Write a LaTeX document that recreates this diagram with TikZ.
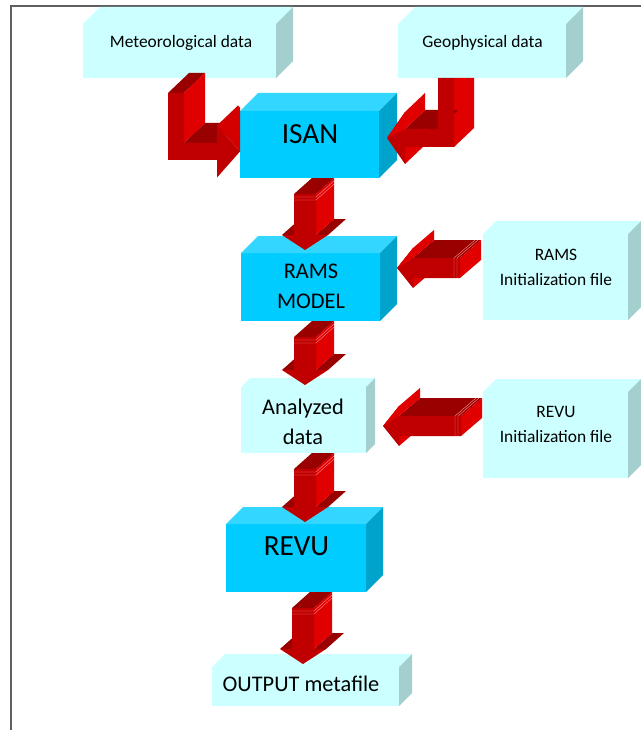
\documentclass[tikz,border=0pt]{standalone}
\usepackage{fontspec}
\setmainfont{Carlito}
\usetikzlibrary{calc}
\definecolor{lightfront}{HTML}{CCFFFF}
\definecolor{lightside}{HTML}{A3CFCF}
\definecolor{bluefront}{HTML}{00CCFF}
\definecolor{bluetop}{HTML}{33D6FF}
\definecolor{blueside}{HTML}{00A3CC}
\definecolor{arrfront}{HTML}{C00000}
\definecolor{arrside}{HTML}{E00000}
\definecolor{arrdark}{HTML}{990000}
\definecolor{arrmid}{HTML}{D40000}
\definecolor{framegray}{HTML}{5F5F5F}
\newcommand{\pxu}{0.25mm}
\tikzset{
  boxface/.style={inner sep=0pt, outer sep=0pt},
  lightface/.style={boxface, fill=lightfront},
  blueface/.style={boxface, fill=bluefront},
  smalltxt/.style={font=\fontsize{12.4}{17.7}\selectfont, align=center, inner sep=0pt},
  midtxt/.style={font=\fontsize{15.9}{21.5}\selectfont, align=center, inner sep=0pt},
  bigtxt/.style={font=\fontsize{20.8}{24}\selectfont, inner sep=0pt},
  seam/.style={draw=red!45!white, line width=0.3pt},
  pics/downblk/.style={code={
    \fill[arrdark] (-23,#1-15) -- (-11,#1-15) -- (7,#1-31) -- (-5,#1-31) -- cycle;
    \fill[arrdark] (11,#1-15) -- (23,#1-15) -- (41,#1-31) -- (29,#1-31) -- cycle;
    \fill[arrside] (11,16) -- (29,0) -- (29,#1-31) -- (11,#1-15) -- cycle;
    \fill[arrdark] (-11,16) -- (11,16) -- (29,0) -- (7,0) -- cycle;
    \fill[arrfront] (-11,16) -- (11,16) -- (11,#1-15) -- (23,#1-15) -- (0,#1) -- (-23,#1-15) -- (-11,#1-15) -- cycle;
    \draw[seam] (-11,19) -- (11,19) -- (29,3);
    \draw[seam] (-11,22) -- (11,22) -- (29,6);
  }},
  pics/leftblk/.style={code={
    \fill[arrside] (16,10) -- (16,20) -- (37,2) -- (37,-8) -- cycle;
    \fill[arrdark] (16,-10) -- (#1,-10) -- (#1+21,-28) -- (37,-28) -- cycle;
    \fill[arrside] (#1,-10) -- (#1+21,-28) -- (#1+21,-8) -- (#1,10) -- cycle;
    \fill[arrfront] (0,0) -- (16,-20) -- (16,-10) -- (#1,-10) -- (#1,10) -- (16,10) -- (16,20) -- cycle;
    \fill[arrside] (0,0) -- (16,-20) -- (37,-38) -- (37,-28) -- (16,-10) -- cycle;
    \draw[seam] (#1-3,10) -- (#1-3,-10) -- (#1+18,-28);
    \draw[seam] (#1-6,10) -- (#1-6,-10) -- (#1+15,-28);
  }}
}
\begin{document}
\begin{tikzpicture}[x=0.25mm, y=-0.25mm]
\useasboundingbox (0,0) rectangle (641,730);
\draw[framegray, line width=1.2pt] (11,730) -- (11,6) -- (641,6);

\node[lightface, minimum width=193*\pxu, minimum height=54*\pxu] (met) at (179.5,51) {};
\node[lightface, minimum width=168*\pxu, minimum height=54*\pxu] (geo) at (482,51) {};
\node[blueface, minimum width=139*\pxu, minimum height=67*\pxu] (isan) at (309.5,144.5) {};
\node[blueface, minimum width=139*\pxu, minimum height=68*\pxu] (rams) at (310.5,287) {};
\node[lightface, minimum width=125*\pxu, minimum height=66*\pxu] (ana) at (303.5,420) {};
\node[blueface, minimum width=140*\pxu, minimum height=68*\pxu] (revu) at (296,558) {};
\node[lightface, minimum width=187*\pxu, minimum height=39*\pxu] (out) at (305.5,686.5) {};
\node[lightface, minimum width=145*\pxu, minimum height=86*\pxu] (ramsini) at (555.5,277) {};
\node[lightface, minimum width=145*\pxu, minimum height=86*\pxu] (revuini) at (555.5,435) {};

\foreach \n/\d/\tp/\sd in {met/17/lightfront/lightside, geo/17/lightfront/lightside,
    isan/18/bluetop/blueside, rams/17/bluetop/blueside, ana/9/lightfront/lightside,
    revu/17/bluetop/blueside, out/13/lightfront/lightside,
    ramsini/13/lightfront/lightside, revuini/13/lightfront/lightside}{
  \fill[\tp] (\n.north west) -- ++(\d,-\d) -- ($(\n.north east)+(\d,-\d)$) -- (\n.north east) -- cycle;
  \fill[\sd] (\n.north east) -- ++(\d,-\d) -- ($(\n.south east)+(\d,-\d)$) -- (\n.south east) -- cycle;
}

\node[smalltxt] (metlbl) at ($(met.center)+(1.5,-8.5)$) {Meteorological data};
\node[smalltxt] (geolbl) at ($(geo.center)+(0.5,-8.5)$) {Geophysical data};
\node[bigtxt] (isanlbl) at ($(isan.center)+(0.5,-10.5)$) {ISAN};
\node[midtxt] (ramslbl) at ($(rams.center)+(0.5,-0.5)$) {RAMS\\MODEL};
\node[midtxt] (analbl) at ($(ana.center)+(-0.5,2)$) {Analyzed\\data};
\node[bigtxt] (revulbl) at ($(revu.center)+(0.5,-11.3)$) {REVU};
\node[midtxt] (outlbl) at ($(out.center)+(-4.5,-2.8)$) {OUTPUT metafile};
\node[smalltxt] (ramsinilbl) at ($(ramsini.center)+(0.5,-9.4)$) {RAMS\\Initialization file};
\node[smalltxt] (revuinilbl) at ($(revuini.center)+(0.5,-10.5)$) {REVU\\Initialization file};

\begin{scope}
  \clip (0,0) rectangle ($(isan.south west)+(0,20)$);
  \begin{scope}[shift={($(met.south)+(-11.5,0)$)}]
    \fill[arrdark] (0,15) -- (16,15) -- (37,-5) -- (21,-5) -- cycle;
    \fill[arrside] (16,15) -- (37,-5) -- (37,45) -- (16,65) -- cycle;
    \fill[arrdark] (16,65) -- (49,65) -- (70,45) -- (37,45) -- cycle;
    \fill[arrmid] (49,47.5) -- (72,73.5) -- (93,53.5) -- (70,27.5) -- cycle;
    \fill[arrfront] (0,15) -- (16,15) -- (16,65) -- (49,65) -- (49,47.5) -- (72,73.5) -- (49,99.5) -- (49,82) -- (0,82) -- cycle;
  \end{scope}
\end{scope}
\begin{scope}[shift={($(geo.south)+(-44,0)$)}]
  \fill[arrside] (16,0) -- (36,0) -- (36,50) -- (16,69) -- cycle;
  \fill[arrdark] (-33,51) -- (0,51) -- (20,32) -- (-13,32) -- cycle;
  \fill[arrside] (-33,69) -- (-33,86) -- (-13,67) -- (-13,50) -- cycle;
  \fill[arrfront] (0,0) -- (16,0) -- (16,69) -- (-33,69) -- (-33,86) -- (-51,60) -- (-33,34) -- (-33,51) -- (0,51) -- cycle;
  \fill[arrside] (-51,60) -- (-33,34) -- (-13,15) -- (-13,32) -- (-33,51) -- cycle;
\end{scope}

\pic at ($(isan.south)+(-4.5,0)$) {downblk=72};
\pic at ($(rams.south)+(-5.5,0)$) {downblk=64};
\pic at ($(ana.south)+(1.5,0)$) {downblk=69};
\pic at ($(revu.south)+(7,0)$) {downblk=72};
\pic at ($(rams.east)+(17,-19)$) {leftblk=63};
\pic at ($(ana.east)+(17,6)$) {leftblk=78};
\end{tikzpicture}
\end{document}
